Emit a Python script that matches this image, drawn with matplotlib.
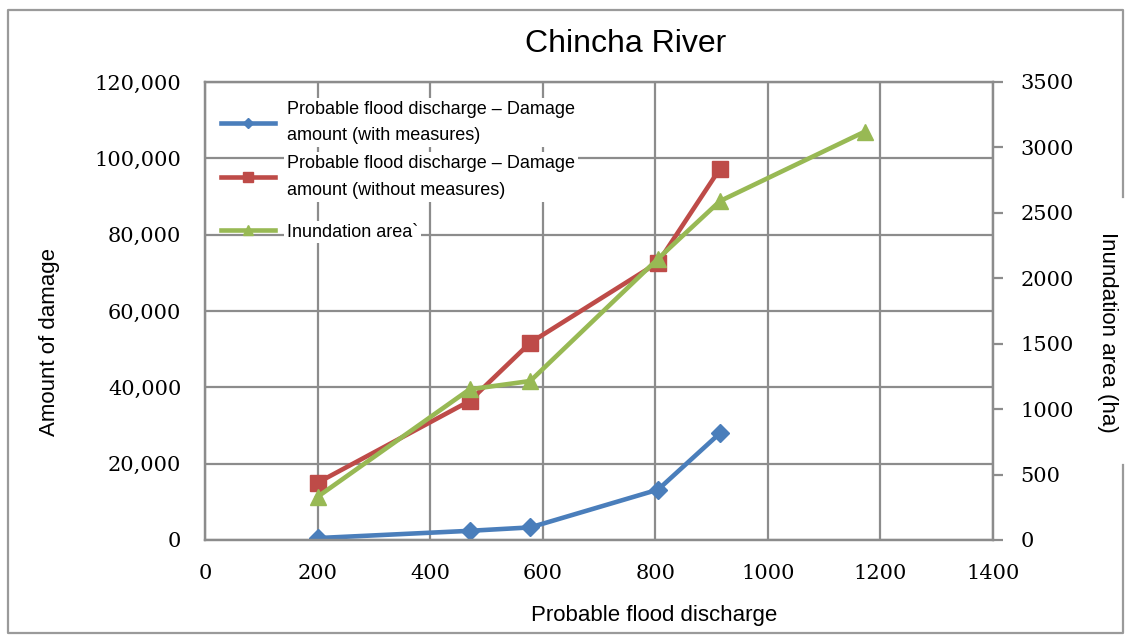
import matplotlib
matplotlib.use("Agg")
import matplotlib.pyplot as plt
from matplotlib.lines import Line2D
from matplotlib.ticker import FuncFormatter

# discharge (m3/s) vs. damage and inundated area
discharge = [200, 470, 578, 805, 915]
damage_with = [500, 2400, 3300, 13200, 28000]
damage_without = [15000, 36400, 51700, 72700, 97300]
area_discharge = [200, 470, 578, 805, 915, 1172]
inundation_area = [330, 1151, 1215, 2150, 2590, 3120]

labels = ["Probable flood discharge \u2013 Damage\namount (with measures)",
          "Probable flood discharge \u2013 Damage\namount (without measures)",
          "Inundation area`"]

c_blue = "#4a7ebb"
c_red = "#be4b48"
c_green = "#98b954"
grid_c = "#8c8c8c"
sans = "Liberation Sans"
serif = "DejaVu Serif"

W, H = 1129, 642
fig = plt.figure(figsize=(W / 100, H / 100), dpi=100)

# outer frame, left open on the right where the axis title sits
def px(x, y):
    return x / W, 1 - y / H
frame = [(1123, 197), (1123, 10), (8, 10), (8, 633), (1123, 633), (1123, 465)]
xs, ys = zip(*[px(*p) for p in frame])
fig.add_artist(Line2D(xs, ys, transform=fig.transFigure, color="#9a9a9a", lw=1.6))

ax = fig.add_axes([0.1816, 0.1589, 0.6979, 0.7134])
ax2 = ax.twinx()

l1, = ax.plot(discharge, damage_with, color=c_blue, lw=3.3, marker="D", ms=9,
              label=labels[0])
l2, = ax.plot(discharge, damage_without, color=c_red, lw=3.3, marker="s", ms=11,
              label=labels[1])
l3, = ax2.plot(area_discharge, inundation_area, color=c_green, lw=3.3, marker="^", ms=12,
               label=labels[2])

ax.set_xlim(0, 1400)
ax.set_ylim(0, 120000)
ax2.set_ylim(0, 3500)
ax.set_xticks(range(0, 1401, 200))
ax.set_yticks(range(0, 120001, 20000))
ax2.set_yticks(range(0, 3501, 500))
ax.yaxis.set_major_formatter(FuncFormatter(lambda v, p: "{:,}".format(int(v))))

ax.grid(True, color=grid_c, lw=1.6)
ax.set_axisbelow(True)
for a in (ax, ax2):
    for s in a.spines.values():
        s.set_color(grid_c)
        s.set_linewidth(1.6)

ax.tick_params(axis="x", length=0, pad=17, labelsize=15)
ax.tick_params(axis="y", length=0, pad=17, labelsize=15)
ax2.tick_params(axis="y", length=7, width=1.6, color=grid_c, direction="out", pad=13,
                labelsize=15)
for t in ax.get_xticklabels() + ax.get_yticklabels() + ax2.get_yticklabels():
    t.set_fontfamily(serif)

ax.set_xlabel("Probable flood discharge", fontsize=16, family=sans)
ax.xaxis.set_label_coords(0.57, -0.141)
ax.set_ylabel("Amount of damage", fontsize=16, family=sans)
ax.yaxis.set_label_coords(-0.184, 0.432)
ax2.set_ylabel("Inundation area (ha)", fontsize=16, family=sans, rotation=270,
               va="center")
ax2.yaxis.set_label_coords(1.146, 0.454)

fig.text(0.5545, 0.932, "Chincha River", fontsize=23, family=sans, ha="center",
         va="center")

# legend: the two damage series, then the area series a little further down
leg_kw = dict(frameon=False, prop={"family": sans, "size": 13}, handlelength=3,
              handletextpad=0.65, markerscale=0.6)
leg1 = ax2.legend(handles=[l1, l2], loc="upper left", bbox_to_anchor=(0.0, 0.995),
                  labelspacing=0.6, **leg_kw)
ax2.add_artist(leg1)
leg2 = ax2.legend(handles=[l3], loc="center left", bbox_to_anchor=(0.0, 0.672), **leg_kw)
for leg in (leg1, leg2):
    for t in leg.get_texts():
        t.set_linespacing(1.75)
        t.set_bbox(dict(facecolor="white", edgecolor="none", pad=2))

fig.savefig("out.png", dpi=100)
